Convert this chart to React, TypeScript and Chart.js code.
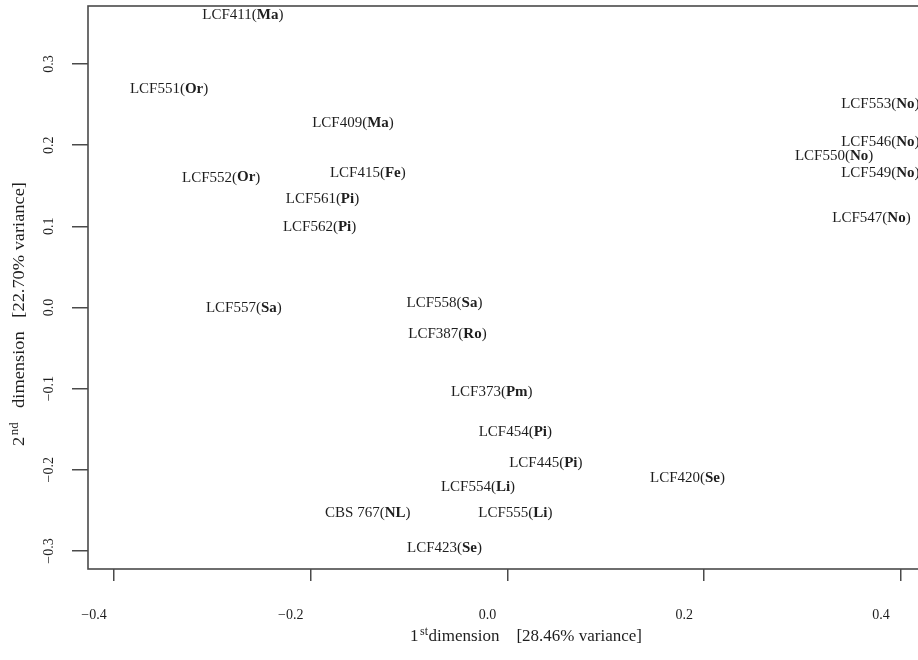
import React, { useEffect, useRef } from "react";
import { Chart, registerables } from "chart.js";

Chart.register(...registerables);

// ---- data ----
const strainIds = [
  "LCF411", "LCF551", "LCF409", "LCF552", "LCF415", "LCF561", "LCF562",
  "LCF557", "LCF558", "LCF387", "LCF373", "LCF454", "LCF445", "LCF554",
  "LCF555", "LCF420", "CBS 767", "LCF423", "LCF553", "LCF546", "LCF550",
  "LCF549", "LCF547",
];
const origins = [
  "Ma", "Or", "Ma", "Or", "Fe", "Pi", "Pi",
  "Sa", "Sa", "Ro", "Pm", "Pi", "Pi", "Li",
  "Li", "Se", "NL", "Se", "No", "No", "No",
  "No", "No",
];
const dim1 = [
  -0.269, -0.344, -0.157, -0.291, -0.142, -0.188, -0.191,
  -0.268, -0.064, -0.061, -0.016, 0.008, 0.039, -0.030,
  0.008, 0.183, -0.142, -0.064, 0.379, 0.379, 0.332,
  0.379, 0.370,
];
const dim2 = [
  0.360, 0.269, 0.227, 0.160, 0.166, 0.134, 0.099,
  -0.001, 0.005, -0.033, -0.104, -0.153, -0.192, -0.221,
  -0.253, -0.210, -0.253, -0.296, 0.251, 0.204, 0.187,
  0.166, 0.110,
];
const xTickValues = [-0.4, -0.2, 0.0, 0.2, 0.4];
const yTickValues = [-0.3, -0.2, -0.1, 0.0, 0.1, 0.2, 0.3];
const xRange = [-0.4264, 0.4244];
const yRange = [-0.3222, 0.3714];
const xTitle = ["1", "st", "dimension    [28.46% variance]"];
const yTitle = ["2", "nd", "   dimension   [22.70% variance]"];

const SERIF = '"Liberation Serif", "DejaVu Serif", serif';
const INK = "#1e1e1e";
const LINE = "#4a4a4a";

const fmt = (v: number) => (v < 0 ? "\u2212" : "") + Math.abs(v).toFixed(1);

function drawSupTitle(ctx: CanvasRenderingContext2D, parts: string[]) {
  const mainFont = "17px " + SERIF;
  const supFont = "12px " + SERIF;
  ctx.font = mainFont;
  const w0 = ctx.measureText(parts[0]).width;
  const w2 = ctx.measureText(parts[2]).width;
  ctx.font = supFont;
  const w1 = ctx.measureText(parts[1]).width + 2;
  const total = w0 + w1 + w2;
  let x = -total / 2;
  ctx.textAlign = "left";
  ctx.textBaseline = "middle";
  ctx.font = mainFont;
  ctx.fillText(parts[0], x, 0);
  x += w0;
  ctx.font = supFont;
  ctx.fillText(parts[1], x + 1.5, -5);
  x += w1;
  ctx.font = mainFont;
  ctx.fillText(parts[2], x, 0);
}

const boxAndLabels = {
  id: "boxAndLabels",
  afterDatasetsDraw(chart: any) {
    const ctx: CanvasRenderingContext2D = chart.ctx;
    const { left, top, right, bottom } = chart.chartArea;
    ctx.save();
    ctx.strokeStyle = LINE;
    ctx.lineWidth = 1.6;
    ctx.strokeRect(left, top, right - left, bottom - top);

    const meta = chart.getDatasetMeta(0);
    ctx.fillStyle = INK;
    ctx.textBaseline = "middle";
    ctx.textAlign = "left";
    meta.data.forEach((el: any, i: number) => {
      const parts: [string, boolean][] = [
        [strainIds[i] + "(", false],
        [origins[i], true],
        [")", false],
      ];
      let w = 0;
      parts.forEach(([t, b]) => {
        ctx.font = (b ? "bold " : "") + "15px " + SERIF;
        w += ctx.measureText(t).width;
      });
      let x = el.x - w / 2;
      parts.forEach(([t, b]) => {
        ctx.font = (b ? "bold " : "") + "15px " + SERIF;
        ctx.fillText(t, x, el.y);
        x += ctx.measureText(t).width;
      });
    });

    // axis titles
    ctx.save();
    ctx.translate(526, 637);
    drawSupTitle(ctx, xTitle);
    ctx.restore();
    ctx.save();
    ctx.translate(20, 314);
    ctx.rotate(-Math.PI / 2);
    ctx.scale(1.08, 1);
    drawSupTitle(ctx, yTitle);
    ctx.restore();
    ctx.restore();
  },
};

export default function App() {
  const ref = useRef<HTMLCanvasElement | null>(null);
  useEffect(() => {
    if (!ref.current) return;
    const chart = new Chart(ref.current, {
      type: "scatter",
      data: {
        datasets: [
          {
            data: dim1.map((x, i) => ({ x, y: dim2[i] })),
            pointRadius: 0,
            pointHoverRadius: 0,
            backgroundColor: "rgba(0,0,0,0)",
            borderColor: "rgba(0,0,0,0)",
          },
        ],
      },
      options: {
        responsive: false,
        animation: false,
        events: [],
        layout: { padding: { left: 0, top: 6, right: 5, bottom: 0 } },
        plugins: { legend: { display: false }, tooltip: { enabled: false } },
        scales: {
          x: {
            type: "linear",
            position: "bottom",
            min: xRange[0],
            max: xRange[1],
            afterBuildTicks: (s: any) => {
              s.ticks = xTickValues.map((v) => ({ value: v }));
            },
            afterFit: (s: any) => {
              s.height = 91;
              s.paddingLeft = 0;
              s.paddingRight = 0;
              s.paddingTop = 0;
              s.paddingBottom = 0;
            },
            grid: { drawOnChartArea: false, drawTicks: true, tickLength: 12, color: LINE, lineWidth: 1.5 },
            border: { display: false },
            ticks: {
              font: { family: SERIF, size: 14 },
              color: INK,
              padding: 26,
              labelOffset: -20,
              maxRotation: 0,
              minRotation: 0,
              autoSkip: false,
              callback: (v: any) => fmt(Number(v)),
            },
          },
          y: {
            type: "linear",
            position: "left",
            min: yRange[0],
            max: yRange[1],
            afterBuildTicks: (s: any) => {
              s.ticks = yTickValues.map((v) => ({ value: v }));
            },
            afterFit: (s: any) => {
              s.width = 88;
              s.paddingLeft = 0;
              s.paddingRight = 0;
              s.paddingTop = 0;
              s.paddingBottom = 0;
            },
            grid: { drawOnChartArea: false, drawTicks: true, tickLength: 16, color: LINE, lineWidth: 1.5 },
            border: { display: false },
            ticks: {
              font: { family: SERIF, size: 14 },
              color: INK,
              padding: 10,
              minRotation: 90,
              maxRotation: 90,
              crossAlign: "center",
              autoSkip: false,
              callback: (v: any) => fmt(Number(v)),
            },
          },
        },
      },
      plugins: [boxAndLabels],
    } as any);
    return () => chart.destroy();
  }, []);

  return (
    <div
      style={{
        position: "fixed",
        left: 0,
        top: 0,
        width: 918,
        height: 660,
        overflow: "hidden",
        background: "#fff",
      }}
    >
      <canvas ref={ref} width={930} height={660} style={{ display: "block" }} />
    </div>
  );
}
